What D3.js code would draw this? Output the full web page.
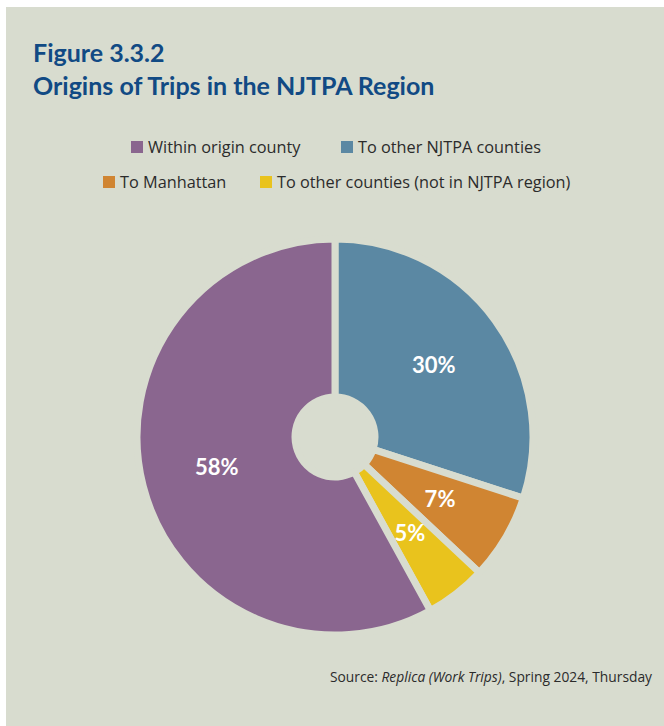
<!DOCTYPE html>
<html>
<head>
<meta charset="utf-8">
<script src="https://cdn.jsdelivr.net/npm/d3@7"></script>
<style>
  body { margin: 0; background: #fff; }
  svg { display: block; }
</style>
</head>
<body>
<div id="chart"></div>
<script>
// data
var categories = ["Within origin county", "To other NJTPA counties", "To Manhattan", "To other counties (not in NJTPA region)"];
var shares = [58, 30, 7, 5];
var colors = ["#8a668f", "#5b88a3", "#d08532", "#e9c31d"];
// order the slices are drawn clockwise from 12 o'clock
var drawOrder = [1, 2, 3, 0];

var W = 664, H = 726;
var bg = "#d8dccf";

var svg = d3.select("#chart").append("svg")
    .attr("width", W)
    .attr("height", H);

// panel
svg.append("rect")
    .attr("x", 6).attr("y", 7)
    .attr("width", W - 6).attr("height", H - 7)
    .attr("fill", bg);

// titles
svg.append("text")
    .attr("x", 33).attr("y", 62)
    .attr("font-family", "Lato, sans-serif")
    .attr("font-weight", 700)
    .attr("font-size", 25)
    .attr("fill", "#114a84")
    .text("Figure 3.3.2");
svg.append("text")
    .attr("x", 33).attr("y", 95)
    .attr("font-family", "Lato, sans-serif")
    .attr("font-weight", 700)
    .attr("font-size", 25)
    .attr("fill", "#114a84")
    .text("Origins of Trips in the NJTPA Region");

// legend
var legendPos = [
    { x: 131, y: 141 },
    { x: 341, y: 141 },
    { x: 103, y: 176 },
    { x: 260, y: 176 }
];
var legend = svg.append("g").selectAll("g")
    .data(categories)
    .join("g")
    .attr("transform", function(d, i) { return "translate(" + legendPos[i].x + "," + legendPos[i].y + ")"; });
legend.append("rect")
    .attr("width", 12).attr("height", 12)
    .attr("fill", function(d, i) { return colors[i]; });
legend.append("text")
    .attr("x", 17).attr("y", 12)
    .attr("font-family", "'Open Sans', sans-serif")
    .attr("font-size", 16.3)
    .attr("fill", "#2b2b2b")
    .text(function(d) { return d; });

// pie
var cx = 335, cy = 437;
var outerR = 198, innerR = 40;

var pieData = drawOrder.map(function(i) {
    return { name: categories[i], value: shares[i], color: colors[i] };
});

var pie = d3.pie()
    .sort(null)
    .value(function(d) { return d.value; });

var arc = d3.arc()
    .innerRadius(innerR)
    .outerRadius(outerR);

var labelArc = d3.arc()
    .innerRadius(122)
    .outerRadius(122);

var g = svg.append("g")
    .attr("transform", "translate(" + cx + "," + cy + ")");

g.selectAll("path")
    .data(pie(pieData))
    .join("path")
    .attr("d", arc)
    .attr("fill", function(d) { return d.data.color; })
    .attr("stroke", bg)
    .attr("stroke-width", 7)
    .attr("stroke-linejoin", "miter");

g.selectAll("text")
    .data(pie(pieData))
    .join("text")
    .attr("transform", function(d) { return "translate(" + labelArc.centroid(d) + ")"; })
    .attr("text-anchor", "middle")
    .attr("dy", "0.35em")
    .attr("font-family", "Lato, sans-serif")
    .attr("font-weight", 700)
    .attr("font-size", 22)
    .attr("fill", "#fff")
    .text(function(d) { return d.data.value + "%"; });

// source
var src = svg.append("text")
    .attr("x", 652).attr("y", 682)
    .attr("text-anchor", "end")
    .attr("font-family", "'Open Sans', sans-serif")
    .attr("font-size", 13.8)
    .attr("fill", "#2b2b2b");
src.append("tspan").text("Source: ");
src.append("tspan").attr("font-style", "italic").text("Replica (Work Trips)");
src.append("tspan").text(", Spring 2024, Thursday");
</script>
</body>
</html>
